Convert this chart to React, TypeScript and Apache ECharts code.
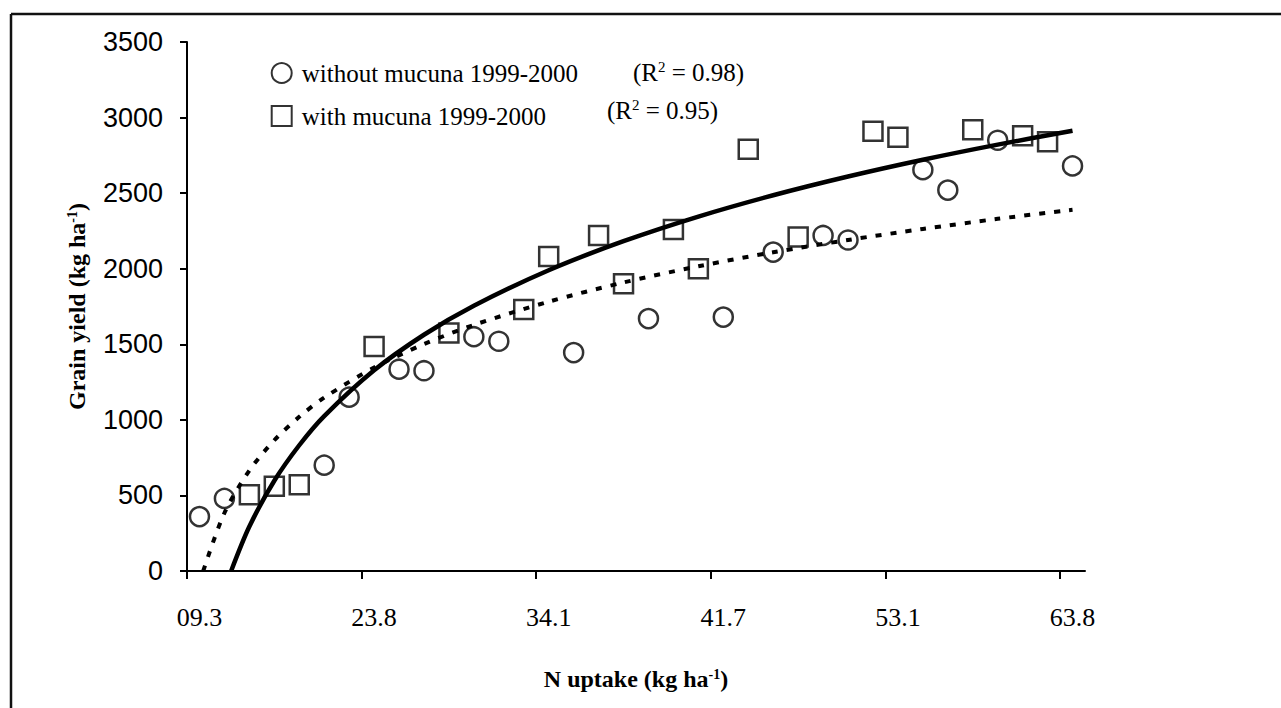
import React, { useEffect, useRef } from 'react';
import * as echarts from 'echarts';

// X axis: 36 N-uptake classes (category positions); labelled every 7th class
const nUptakeTickPos = [0, 7, 14, 21, 28, 35];
const nUptakeLabels = ['09.3', '23.8', '34.1', '41.7', '53.1', '63.8'];

// Without mucuna 1999-2000 (circles): class index and grain yield (kg/ha)
const withoutClass = [0, 1, 5, 6, 8, 9, 11, 12, 15, 18, 21, 23, 25, 26, 29, 30, 32, 35];
const withoutYield = [360, 480, 700, 1150, 1335, 1325, 1550, 1520, 1445, 1670, 1680, 2110, 2220, 2190, 2655, 2520, 2850, 2680];

// With mucuna 1999-2000 (squares)
const withClass = [2, 3, 4, 7, 10, 13, 14, 16, 17, 19, 20, 22, 24, 27, 28, 31, 33, 34];
const withYield = [505, 560, 570, 1485, 1575, 1730, 2080, 2220, 1900, 2260, 2000, 2790, 2210, 2910, 2870, 2920, 2880, 2840];

// Trend lines (class position, yield)
const solidTrendX = [1.77, 2.5, 3.5, 4.5, 5.5, 7.5, 9.5, 11.5, 14.5, 17.5, 20.5, 23.5, 26.5, 29.5, 32.5, 35.5];
const solidTrendY = [0, 294, 597, 832, 1025, 1328, 1563, 1755, 1990, 2182, 2345, 2486, 2610, 2721, 2821, 2913];
const dottedTrendX = [0.65, 1.5, 2.5, 3.5, 4.5, 5.5, 7.5, 9.5, 11.5, 14.5, 17.5, 20.5, 23.5, 26.5, 29.5, 32.5, 35.5];
const dottedTrendY = [0, 384, 665, 865, 1020, 1147, 1346, 1501, 1628, 1782, 1909, 2016, 2109, 2190, 2263, 2330, 2390];

const SERIF = "'Liberation Serif', 'Times New Roman', serif";
const SANS = "'Liberation Sans', Arial, sans-serif";
const SQUARE_ICON = 'path://M0,0H10V10H0Z';

export default function App() {
  const ref = useRef<HTMLDivElement>(null);
  useEffect(() => {
    const chart = echarts.init(ref.current as HTMLDivElement, null, { renderer: 'svg' });
    const boldRich = {
      b: { fontFamily: SERIF, fontWeight: 'bold', fontSize: 24, color: '#000' },
      sup: { fontFamily: SERIF, fontWeight: 'bold', fontSize: 14, color: '#000', verticalAlign: 'top' },
    };
    const rRich = {
      a: { fontFamily: SERIF, fontSize: 25, color: '#000' },
      s: { fontFamily: SERIF, fontSize: 15, color: '#000', verticalAlign: 'top' },
    };
    chart.setOption({
      animation: false,
      backgroundColor: '#ffffff',
      grid: { left: 187, top: 42, width: 898, height: 529 },
      legend: {
        orient: 'vertical',
        left: 265.7,
        top: 55,
        itemWidth: 30,
        itemHeight: 20,
        itemGap: 17,
        selectedMode: false,
        symbolKeepAspect: true,
        data: [
          { name: 'without mucuna 1999-2000', icon: 'circle' },
          { name: 'with mucuna 1999-2000', icon: SQUARE_ICON },
        ],
        textStyle: { fontFamily: SERIF, fontSize: 25, color: '#000', lineHeight: 26 },
      },
      xAxis: {
        type: 'value',
        min: 0,
        max: 36,
        splitLine: { show: false },
        axisLine: { lineStyle: { color: '#000', width: 2 } },
        axisTick: { show: true, length: 8, lineStyle: { color: '#000', width: 2 }, customValues: nUptakeTickPos },
        axisLabel: {
          customValues: nUptakeTickPos.map((v) => v + 0.5),
          formatter: (v: number) => {
            const i = nUptakeTickPos.indexOf(Math.round(v - 0.5));
            return i >= 0 ? nUptakeLabels[i] : '';
          },
          fontFamily: SERIF,
          fontSize: 26,
          color: '#000',
          margin: 33,
        },
        name: '{b|N uptake (kg ha}{sup|-1}{b|)}',
        nameLocation: 'middle',
        nameGap: 96,
        nameTextStyle: { rich: boldRich },
      },
      yAxis: {
        type: 'value',
        min: 0,
        max: 3500,
        interval: 500,
        splitLine: { show: false },
        axisLine: { show: true, lineStyle: { color: '#000', width: 2 } },
        axisTick: { show: true, length: 7, lineStyle: { color: '#000', width: 2 } },
        axisLabel: {
          fontFamily: SANS,
          fontSize: 27,
          color: '#000',
          margin: 24,
          formatter: (v: number) => String(v),
        },
        name: '{b|Grain yield (kg ha}{sup|-1}{b|)}',
        nameLocation: 'middle',
        nameRotate: 90,
        nameGap: 98,
        nameTextStyle: { rich: boldRich },
      },
      graphic: [
        { type: 'line', silent: true, shape: { x1: 11, y1: 14, x2: 1281, y2: 14 }, style: { stroke: '#111', lineWidth: 2.5 } },
        { type: 'line', silent: true, shape: { x1: 11, y1: 14, x2: 11, y2: 708 }, style: { stroke: '#111', lineWidth: 2.5 } },
        {
          type: 'text', x: 633, y: 72, silent: true,
          style: { text: '{a|(R}{s|2}{a| = 0.98)}', rich: rRich, verticalAlign: 'middle', align: 'left' },
        },
        {
          type: 'text', x: 607, y: 110, silent: true,
          style: { text: '{a|(R}{s|2}{a| = 0.95)}', rich: rRich, verticalAlign: 'middle', align: 'left' },
        },
      ],
      series: [
        {
          name: 'trend solid',
          type: 'line',
          data: solidTrendX.map((x, i) => [x, solidTrendY[i]]),
          symbol: 'none',
          smooth: 0.3,
          lineStyle: { color: '#000', width: 4.5 },
          z: 2,
        },
        {
          name: 'trend dotted',
          type: 'line',
          data: dottedTrendX.map((x, i) => [x, dottedTrendY[i]]),
          symbol: 'none',
          smooth: 0.3,
          lineStyle: { color: '#000', width: 4, type: [6, 9] },
          z: 2,
        },
        {
          name: 'without mucuna 1999-2000',
          type: 'scatter',
          symbol: 'circle',
          symbolSize: 19,
          data: withoutClass.map((c, i) => [c + 0.5, withoutYield[i]]),
          itemStyle: { color: 'rgba(0,0,0,0)', borderColor: '#000', borderWidth: 2.5 },
          z: 3,
        },
        {
          name: 'with mucuna 1999-2000',
          type: 'scatter',
          symbol: 'rect',
          symbolSize: 19,
          data: withClass.map((c, i) => [c + 0.5, withYield[i]]),
          itemStyle: { color: 'rgba(0,0,0,0)', borderColor: '#000', borderWidth: 2.5 },
          z: 3,
        },
      ],
    });
    return () => chart.dispose();
  }, []);
  return (
    <div
      ref={ref}
      style={{ position: 'absolute', left: 0, top: 0, width: 1281, height: 708, background: '#fff' }}
    />
  );
}
